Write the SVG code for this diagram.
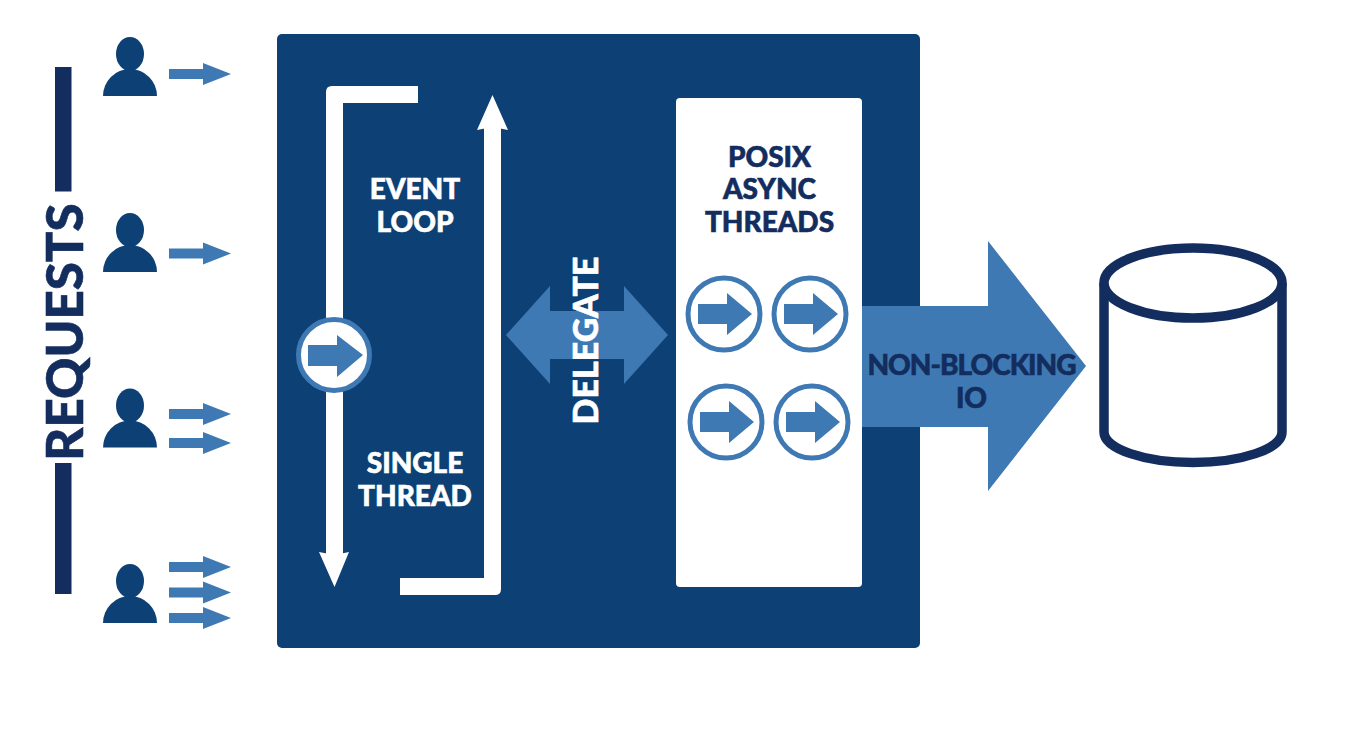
<svg xmlns="http://www.w3.org/2000/svg" width="1350" height="743" viewBox="0 0 1350 743">
<style>
text{font-family:Lato,"Open Sans","Liberation Sans",sans-serif;font-weight:900;font-size:28px;text-anchor:middle;stroke-width:.6}
.w{fill:#fff}.n{fill:#132d5e}.m{fill:#0d4074}.l{fill:#3f79b3}
text.w{stroke:#fff}text.n{stroke:#132d5e}
.c{fill:#fff;stroke:#3f79b3;stroke-width:5}
</style>
<defs>
<g id="user"><ellipse cx="0" cy="-42" rx="14" ry="17" class="m"/><path d="M-27 0A27 27 0 0 1 27 0Z" class="m"/></g>
<path id="small" class="l" d="M0-5H34V-11L62 0L34 11V5H0Z"/>
</defs>
<rect id="panel" x="277" y="34" width="643" height="614" rx="5" class="m"/>
<g id="requests">
<rect x="55" y="67" width="16.500" height="124.500" class="n"/><rect x="55" y="463" width="16.500" height="131" class="n"/>
<text transform="translate(82.500,332) rotate(-90)" style="font-size:51px" class="n">REQUESTS</text>
</g>
<g id="users">
<use href="#user" x="130" y="96"/><use href="#user" x="130" y="272"/><use href="#user" x="130" y="447.500"/><use href="#user" x="130" y="623"/>
<use href="#small" x="169" y="74"/><use href="#small" x="169" y="253.500"/><use href="#small" x="169" y="414"/><use href="#small" x="169" y="443"/>
<use href="#small" x="169" y="567"/><use href="#small" x="169" y="592.500"/><use href="#small" x="169" y="618"/>
</g>
<g id="connectors">
<path class="w" d="M418 86H332Q326 86 326 92V555H343V103H418Z"/>
<path class="w" d="M319 552L334.500 555L349 552L334.500 587Z"/>
<path class="w" d="M400 595H495Q501 595 501 589V125H484V578H400Z"/>
<path class="w" d="M477 130L492.500 127L508 130L492.500 95Z"/>
</g>
<g id="event-loop"><text x="415" y="199" class="w">EVENT</text><text x="415" y="232" class="w">LOOP</text></g>
<g id="single-thread"><text x="415" y="472.500" class="w">SINGLE</text><text x="415" y="505.500" class="w">THREAD</text></g>
<g id="loop-circle"><circle cx="334" cy="355" r="35.500" class="c"/><path class="l" d="M308 345H337V335L363 355L337 377V366H308Z"/></g>
<g id="delegate">
<path class="l" d="M506 335L550 286V311H624V286L668 335L624 384V359H550V384Z"/>
<text transform="translate(597.500,340.500) rotate(-90)" style="font-size:34px" class="w">DELEGATE</text>
</g>
<g id="posix">
<rect x="676" y="98" width="186" height="489" rx="4" fill="#fff"/>
<text x="769.500" y="166.500" class="n">POSIX</text><text x="769.500" y="199" class="n">ASYNC</text><text x="769.500" y="232" class="n">THREADS</text>
</g>
<g id="thread-1"><circle cx="724" cy="314" r="36" class="c"/><path class="l" d="M698 304H727V293L752 314L727 335V324H698Z"/></g>
<g id="thread-2"><circle cx="810" cy="314" r="36" class="c"/><path class="l" d="M784 304H813V293L838 314L813 335V324H784Z"/></g>
<g id="thread-3"><circle cx="726" cy="422" r="36" class="c"/><path class="l" d="M700 412H729V401L754 422L729 443V432H700Z"/></g>
<g id="thread-4"><circle cx="812" cy="422" r="36" class="c"/><path class="l" d="M786 412H815V401L840 422L815 443V432H786Z"/></g>
<g id="non-blocking">
<path class="l" d="M862 306H988V241L1086 366L988 491V427H862Z"/>
<text x="971.500" y="374.500" letter-spacing="-1" class="n">NON-BLOCKING</text><text x="971.500" y="407.500" class="n">IO</text>
</g>
<g id="database" fill="#fff" stroke="#132d5e" stroke-width="9.500">
<path d="M1104 283V432C1104 449 1145 462.500 1193 462.500S1282 449 1282 432V283"/>
<ellipse cx="1193" cy="283" rx="89" ry="35"/>
</g>
</svg>
